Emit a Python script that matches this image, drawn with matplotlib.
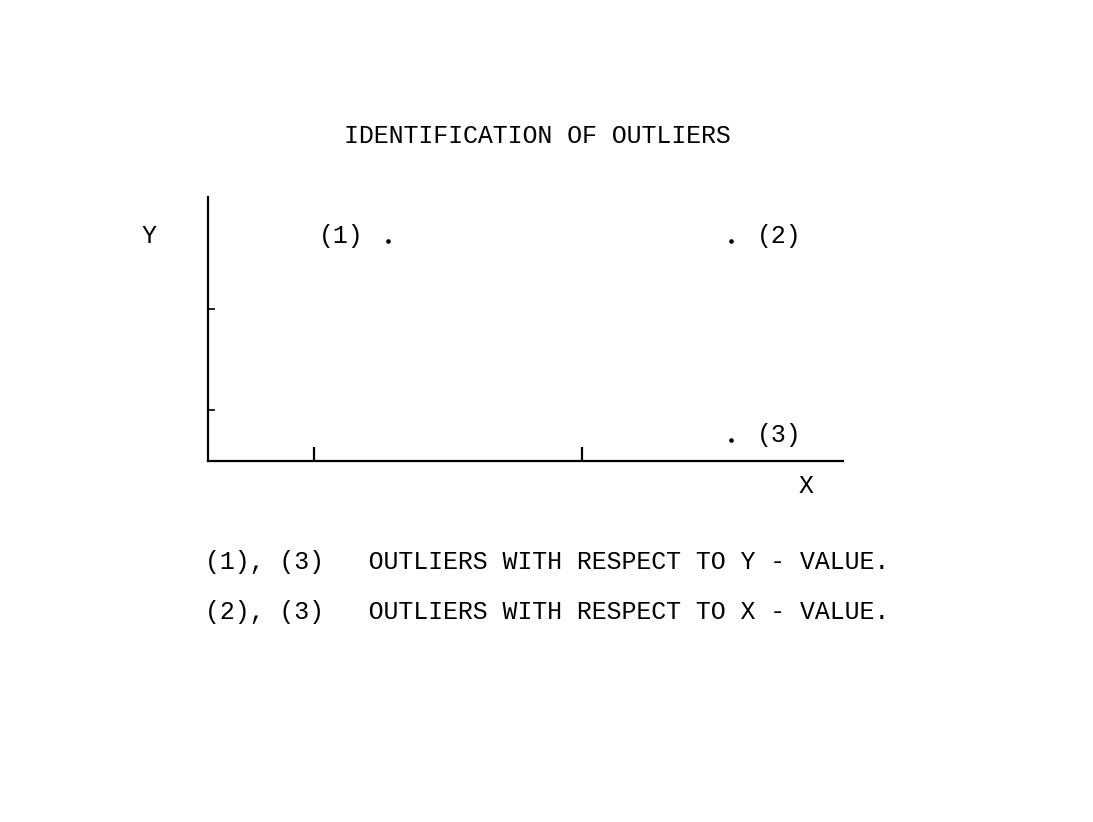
import matplotlib
matplotlib.use("Agg")
import matplotlib.pyplot as plt

# point positions (data units)
pt_x = [3.40, 9.88, 9.88]
pt_y = [4.33, 4.33, 0.41]
pt_labels = ["(1)", "(2)", "(3)"]
# which side each label goes on
pt_side = ["left", "right", "right"]

x_ticks = [2.0, 7.07]
y_ticks = [1.0, 3.0]

title = "IDENTIFICATION OF OUTLIERS"
notes = ["(1), (3)   OUTLIERS WITH RESPECT TO Y - VALUE.",
         "(2), (3)   OUTLIERS WITH RESPECT TO X - VALUE."]

W, H = 1093, 822
plt.rcParams["font.family"] = ["Liberation Mono", "DejaVu Sans Mono"]
fs = 17.9

fig = plt.figure(figsize=(W / 100, H / 100), dpi=100)
ax = fig.add_axes([208 / W, 1 - 461 / H, (843 - 208) / W, (461 - 197) / H])
ax.set_xlim(0, 12)
ax.set_ylim(0, 5.2)
for s in ["top", "right"]:
    ax.spines[s].set_visible(False)
for s in ["left", "bottom"]:
    ax.spines[s].set_linewidth(1.6)
ax.set_xticks(x_ticks)
ax.set_yticks(y_ticks)
ax.tick_params(axis="x", direction="in", length=10, width=1.6, labelbottom=False)
ax.tick_params(axis="y", direction="in", length=5, width=1.2, labelleft=False)

ax.plot(pt_x, pt_y, "o", color="black", markersize=2.3, linestyle="none", clip_on=False)
for x, y, lab, side in zip(pt_x, pt_y, pt_labels, pt_side):
    if side == "left":
        ax.annotate(lab, (x, y), xytext=(-17.5, 3.5), textcoords="offset points",
                    ha="right", va="center", fontsize=fs)
    else:
        ax.annotate(lab, (x, y), xytext=(19, 3.5), textcoords="offset points",
                    ha="left", va="center", fontsize=fs)

fig.text(537 / W, 1 - 136 / H, title, ha="center", va="center", fontsize=fs)
fig.text(149 / W, 1 - 236 / H, "Y", ha="center", va="center", fontsize=fs)
fig.text(806 / W, 1 - 486 / H, "X", ha="center", va="center", fontsize=fs)
fig.text(205 / W, 1 - 562 / H, notes[0], ha="left", va="center", fontsize=fs)
fig.text(205 / W, 1 - 612 / H, notes[1], ha="left", va="center", fontsize=fs)

fig.savefig("out.png", dpi=100)
